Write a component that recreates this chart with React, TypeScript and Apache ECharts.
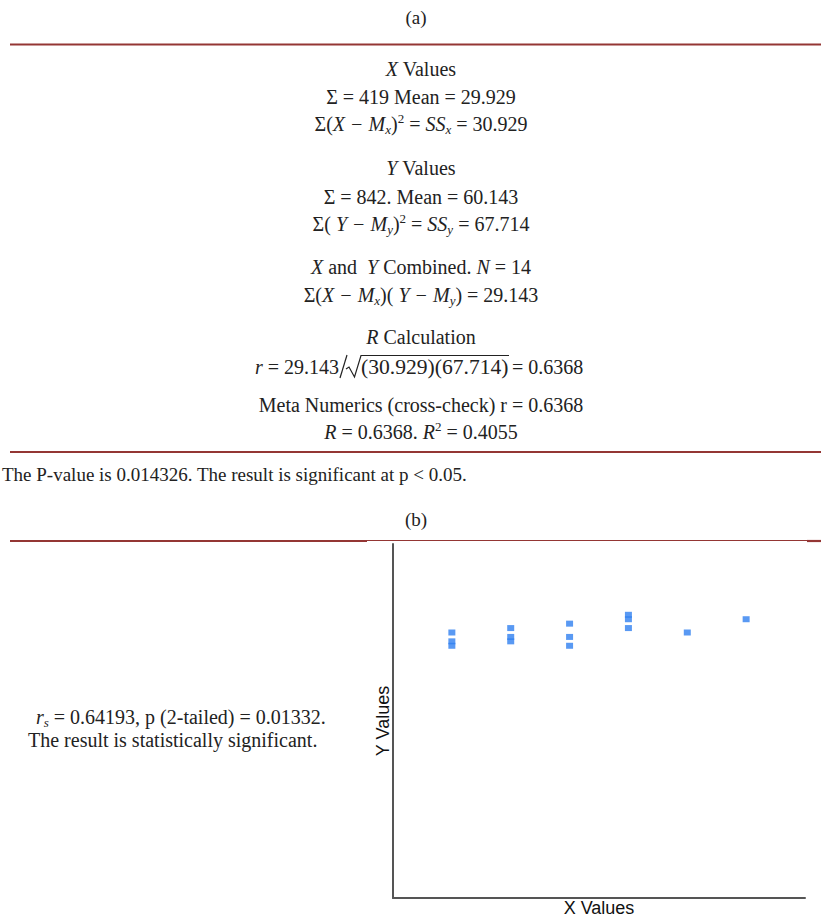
import React, { useEffect, useRef } from "react";
import * as echarts from "echarts";

// ---- data ----
const xValues = [28, 28, 28, 29, 29, 29, 30, 30, 30, 31, 31, 31, 32, 33];
const yValues = [60, 58, 57, 61, 59, 58, 62, 59, 57, 64, 63, 61, 60, 63];
const xAxisRange = [27, 34];
const yAxisRange = [0, 80];
const xAxisName = "X Values";
const yAxisName = "Y Values";

// ---- text lines of panel (a) (rich-text markup) ----
const panelATexts = [
  "{i|X}{n| Values}",
  "{n|Σ = 419 Mean = 29.929}",
  "{n|Σ(}{i|X − M}{sub|x}{n|)}{sup|2}{n| = }{i|SS}{sub|x}{n| = 30.929}",
  "{i|Y}{n| Values}",
  "{n|Σ = 842. Mean = 60.143}",
  "{n|Σ( }{i|Y − M}{sub|y}{n|)}{sup|2}{n| = }{i|SS}{sub|y}{n| = 67.714}",
  "{i|X}{n| and  }{i|Y}{n| Combined. }{i|N}{n| = 14}",
  "{n|Σ(}{i|X − M}{sub|x}{n|)( }{i|Y − M}{sub|y}{n|) = 29.143}",
  "{i|R}{n| Calculation}",
  "{n|Meta Numerics (cross-check) r = 0.6368}",
  "{i|R}{n| = 0.6368. }{i|R}{sup|2}{n| = 0.4055}",
];
const panelAY = [69, 97, 124, 168, 197, 224, 267, 295, 337, 405, 432];
const eqLeft = "{i|r}{n| = 29.143}";
const eqRoot = "{b|(30.929)(67.714)}";
const eqRight = "{n|= 0.6368}";
const pValueText = "The P-value is 0.014326. The result is significant at p < 0.05.";
const spearman1 = "{i|r}{sub|s}{n| = 0.64193, p (2-tailed) = 0.01332.}";
const spearman2 = "{n|The result is statistically significant.}";

const SERIF = "'Liberation Serif', 'Times New Roman', serif";
const SANS = "'Liberation Sans', Arial, sans-serif";
const INK = "#222";
const RED = "#943634";

const rich = {
  n: { fontFamily: SERIF, fontSize: 20, lineHeight: 24, fill: INK },
  b: { fontFamily: SERIF, fontSize: 21.6, lineHeight: 24, fill: INK },
  i: { fontFamily: SERIF, fontSize: 20, lineHeight: 24, fontStyle: "italic", fill: INK },
  sub: { fontFamily: SERIF, fontSize: 13, lineHeight: 14, fontStyle: "italic", verticalAlign: "bottom", fill: INK },
  sup: { fontFamily: SERIF, fontSize: 13, lineHeight: 14, verticalAlign: "top", fill: INK },
};

function richText(text: string, x: number, y: number, align: string) {
  return {
    type: "text",
    x,
    y,
    silent: true,
    style: { text, rich, align, verticalAlign: "middle", fill: INK, fontFamily: SERIF, fontSize: 20 },
  };
}

function hLine(x1: number, x2: number, y: number, w: number) {
  return {
    type: "line",
    silent: true,
    shape: { x1, y1: y, x2, y2: y },
    style: { stroke: RED, lineWidth: w },
  };
}

export default function App() {
  const ref = useRef<HTMLDivElement>(null);

  useEffect(() => {
    if (!ref.current) return;
    const chart = echarts.init(ref.current, null, { renderer: "svg" });

    const graphics: any[] = [
      {
        type: "text",
        x: 416,
        y: 17,
        style: { text: "(a)", fontFamily: SERIF, fontSize: 19, fill: INK, align: "center", verticalAlign: "middle" },
      },
      hLine(10, 821, 44.5, 2.2),
      ...panelATexts.map((t, k) => richText(t, 421, panelAY[k], "center")),
      richText(eqLeft, 339, 367, "right"),
      {
        type: "line",
        shape: { x1: 347, y1: 355, x2: 340, y2: 378 },
        style: { stroke: INK, lineWidth: 1.2 },
      },
      {
        type: "polyline",
        shape: { points: [[346, 369], [349, 367], [354.5, 377], [361, 355.5], [509, 355.5]] },
        style: { stroke: INK, lineWidth: 1.2, fill: null },
      },
      richText(eqRoot, 361, 367, "left"),
      richText(eqRight, 512, 367, "left"),
      hLine(10, 821, 452, 2.2),
      {
        type: "text",
        x: 2,
        y: 474,
        style: { text: pValueText, fontFamily: SERIF, fontSize: 19, fill: INK, align: "left", verticalAlign: "middle" },
      },
      {
        type: "text",
        x: 416,
        y: 519,
        style: { text: "(b)", fontFamily: SERIF, fontSize: 19, fill: INK, align: "center", verticalAlign: "middle" },
      },
      hLine(10, 367, 541, 2.2),
      hLine(367, 807, 540.5, 1),
      hLine(807, 821, 541, 2.2),
      richText(spearman1, 36, 717, "left"),
      richText(spearman2, 28, 740, "left"),
    ];

    chart.setOption({
      animation: false,
      backgroundColor: "#fff",
      grid: { left: 393, top: 544, width: 412, height: 357, containLabel: false },
      xAxis: {
        type: "value",
        min: xAxisRange[0],
        max: xAxisRange[1],
        name: xAxisName,
        nameLocation: "middle",
        nameGap: 1,
        nameTextStyle: { fontFamily: SANS, fontSize: 18, color: "#111", verticalAlign: "top" },
        axisLine: { show: true, lineStyle: { color: "#555", width: 2 } },
        axisTick: { show: false },
        axisLabel: { show: false },
        splitLine: { show: false },
      },
      yAxis: {
        type: "value",
        min: yAxisRange[0],
        max: yAxisRange[1],
        name: yAxisName,
        nameLocation: "middle",
        nameGap: 1,
        nameRotate: 90,
        nameTextStyle: { fontFamily: SANS, fontSize: 18, color: "#111" },
        axisLine: { show: true, lineStyle: { color: "#555", width: 2 } },
        axisTick: { show: false },
        axisLabel: { show: false },
        splitLine: { show: false },
      },
      series: [
        {
          type: "scatter",
          data: xValues.map((x, k) => [x, yValues[k]]),
          symbol: "rect",
          symbolSize: [7, 6],
          itemStyle: { color: "#2f80f0" },
          silent: true,
        },
      ],
      graphic: graphics,
    });

    return () => chart.dispose();
  }, []);

  return (
    <div
      ref={ref}
      style={{ position: "absolute", left: 0, top: 0, width: 821, height: 918 }}
    />
  );
}
